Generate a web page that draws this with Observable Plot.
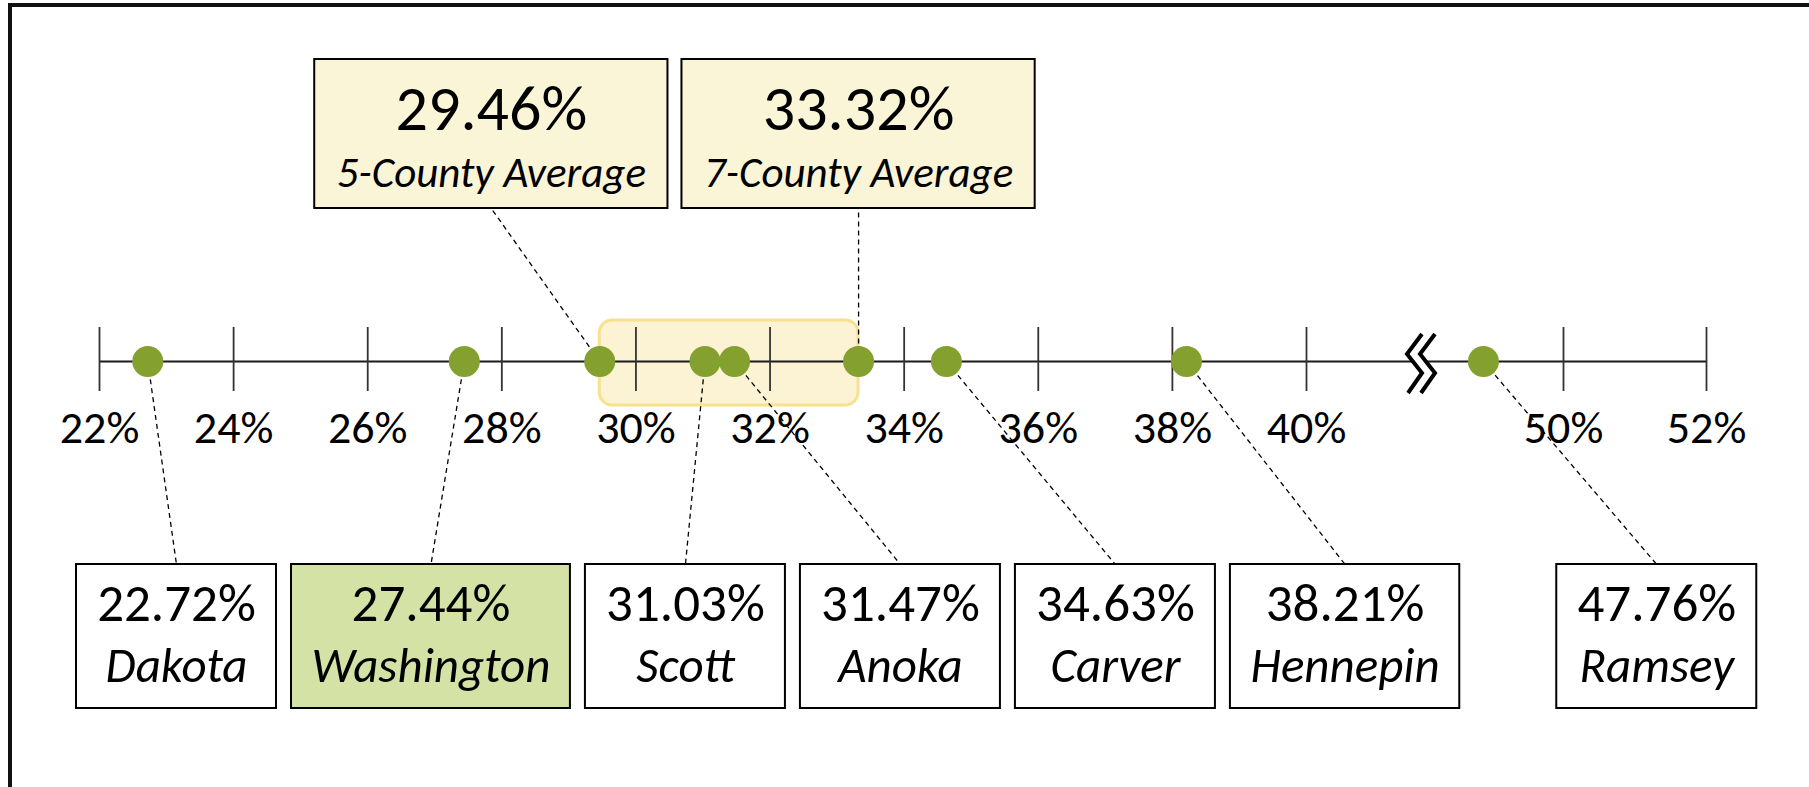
<!DOCTYPE html>
<html>
<head>
<meta charset="utf-8">
<script src="https://cdn.jsdelivr.net/npm/d3@7"></script>
<script src="https://cdn.jsdelivr.net/npm/@observablehq/plot@0.6"></script>
<style>
  html, body { margin: 0; padding: 0; background: #fff; }
  #wrap { position: relative; width: 1809px; height: 787px; overflow: hidden; }
  #frame { position: absolute; left: 8px; top: 3px; width: 1820px; height: 800px;
           border-left: 4px solid #111; border-top: 4px solid #111; pointer-events: none; }
</style>
</head>
<body>
<div id="wrap"><div id="chart"></div><div id="frame"></div></div>
<script>
// ---- data ----
const counties = ["Dakota", "Washington", "Scott", "Anoka", "Carver", "Hennepin", "Ramsey"];
const countyValues = [22.72, 27.44, 31.03, 31.47, 34.63, 38.21, 47.76];
const highlightCounty = "Washington";
const averageLabels = ["5-County Average", "7-County Average"];
const averageValues = [29.46, 33.32];
const tickValues = [22, 24, 26, 28, 30, 32, 34, 36, 38, 40, 50, 52];
const tickLabels = ["22%", "24%", "26%", "28%", "30%", "32%", "34%", "36%", "38%", "40%", "50%", "52%"];
const axisBreakValue = 46;

// ---- layout ----
const W = 1809, H = 787;
const xDomain = [22, 40, axisBreakValue, 50, 52];
const xRange = [99, 1306, 1420, 1563, 1706];
const L = {
  axisY: 361, tickY1: 327, tickY2: 391, tickLabelY: 428,
  hlY1: 320, hlY2: 405,
  topY1: 59, topY2: 208, topValueY: 109, topLabelY: 173,
  botY1: 564, botY2: 708, botValueY: 604, botNameY: 666,
  botLeft: 76, botGap: 15, breakGap: 82, botMinW: 200, botPad: 20, botMinPad: 14,
  topGap: 14, topPad: 22
};
const font = "Carlito, Calibri, 'Liberation Sans', sans-serif";
const fsTick = 46, fsBotVal = 53, fsBotName = 49, fsTopVal = 64, fsTopLabel = 43;
const stretchY = {tick: 1.06, botVal: 1.13, topVal: 1.04};
const green = "#84A02E";

const xs = Plot.scale({x: {type: "linear", domain: xDomain, range: xRange}});
const xInv = d3.scaleLinear(xRange, xDomain);   // inverse of the same piecewise mapping
const ctx = document.createElement("canvas").getContext("2d");
function textW(str, f) { ctx.font = f; return ctx.measureText(str).width; }
const pct = v => v.toFixed(2) + "%";

// bottom boxes packed left to right (extra gap once past the axis break)
const bottomBoxes = [];
let cursor = L.botLeft;
counties.forEach((name, i) => {
  const v = countyValues[i];
  if (v > axisBreakValue && (i === 0 || countyValues[i - 1] < axisBreakValue)) cursor += L.breakGap;
  const w = Math.max(L.botMinW,
    textW(name, `italic ${fsBotName}px ${font}`) + 2 * L.botPad,
    textW(pct(v), `${fsBotVal}px ${font}`) + 2 * L.botMinPad);
  const px1 = cursor, px2 = cursor + w;
  bottomBoxes.push({name, value: v, x1: xInv(px1), x2: xInv(px2), xc: xInv((px1 + px2) / 2),
               fill: name === highlightCounty ? "#D4E2A6" : "#FFFFFF"});
  cursor = px2 + L.botGap;
});

// top boxes: last one centred over its dot, earlier ones to its left
const topW = d3.max(averageLabels, (s, i) => Math.max(textW(s, `italic ${fsTopLabel}px ${font}`), textW(pct(averageValues[i]), `${fsTopVal}px ${font}`))) + 2 * L.topPad;
const topBoxes = [];
let rightEdge = null;
for (let i = averageLabels.length - 1; i >= 0; i--) {
  let px1, px2;
  if (rightEdge === null) { const c = xs.apply(averageValues[i]); px1 = c - topW / 2; px2 = c + topW / 2; }
  else { px2 = rightEdge; px1 = px2 - topW; }
  rightEdge = px1 - L.topGap;
  topBoxes.unshift({label: averageLabels[i], value: averageValues[i], x1: xInv(px1), x2: xInv(px2), xc: xInv((px1 + px2) / 2)});
}

const ticks = tickValues.map((v, i) => ({v, label: tickLabels[i]}));

function breakGlyph(index, scales) {
  const cx = scales.x(axisBreakValue), cy = scales.y(L.axisY);
  const pts = [[2, -27], [-13, -7], [2, 12], [-12, 32]];
  const off = 13;
  const g = d3.create("svg:g");
  const s1 = pts.map(([dx, dy]) => [cx + dx, cy + dy]);
  const s2 = pts.map(([dx, dy]) => [cx + dx + off, cy + dy]);
  g.append("path").attr("d", d3.line()(s1.concat(s2.slice().reverse())) + "Z").attr("fill", "#fff");
  for (const s of [s1, s2]) {
    g.append("path").attr("d", d3.line()(s)).attr("fill", "none").attr("stroke", "#000")
      .attr("stroke-width", 4).attr("stroke-linejoin", "miter");
  }
  return g.node();
}

const chart = Plot.plot({
  width: W, height: H,
  margin: 0,
  x: {type: "linear", domain: xDomain, range: xRange, axis: null},
  y: {type: "linear", domain: [0, H], range: [0, H], axis: null},
  style: {background: "transparent", overflow: "visible"},
  marks: [
    Plot.rect([averageValues], {x1: d => d[0], x2: d => d[1], y1: L.hlY1, y2: L.hlY2,
      rx: 13, fill: "#FBF3D3", stroke: "#F7E08E", strokeWidth: 3}),
    Plot.ruleY([L.axisY], {x1: d3.min(tickValues), x2: d3.max(tickValues), stroke: "#1a1a1a", strokeWidth: 2}),
    Plot.ruleX(ticks, {x: "v", y1: L.tickY1, y2: L.tickY2, stroke: "#333", strokeWidth: 1.8}),
    breakGlyph,
    Plot.text(ticks, {x: "v", y: L.tickLabelY, text: "label", fontSize: fsTick, fontFamily: font, fill: "#000", ariaLabel: "tick-labels"}),
    Plot.link(bottomBoxes, {x1: "value", y1: L.axisY, x2: "xc", y2: L.botY1, stroke: "#000", strokeWidth: 1.3, strokeDasharray: "5,4"}),
    Plot.link(topBoxes, {x1: "value", y1: L.axisY, x2: "xc", y2: L.topY2, stroke: "#000", strokeWidth: 1.3, strokeDasharray: "5,4"}),
    Plot.dot(countyValues.concat(averageValues), {x: d => d, y: L.axisY, r: 15.5, fill: green, stroke: "none"}),
    Plot.rect(bottomBoxes, {x1: "x1", x2: "x2", y1: L.botY1, y2: L.botY2, fill: "fill", stroke: "#000", strokeWidth: 2}),
    Plot.text(bottomBoxes, {x: "xc", y: L.botValueY, text: d => pct(d.value), fontSize: fsBotVal, fontFamily: font, fill: "#000", ariaLabel: "county-values"}),
    Plot.text(bottomBoxes, {x: "xc", y: L.botNameY, text: "name", fontSize: fsBotName, fontFamily: font, fontStyle: "italic", fill: "#000"}),
    Plot.rect(topBoxes, {x1: "x1", x2: "x2", y1: L.topY1, y2: L.topY2, fill: "#FBF5D8", stroke: "#000", strokeWidth: 2}),
    Plot.text(topBoxes, {x: "xc", y: L.topValueY, text: d => pct(d.value), fontSize: fsTopVal, fontFamily: font, fill: "#000", ariaLabel: "average-values"}),
    Plot.text(topBoxes, {x: "xc", y: L.topLabelY, text: "label", fontSize: fsTopLabel, fontFamily: font, fontStyle: "italic", fill: "#000"})
  ]
});

// slightly taller numerals, as in the original's stretched text
function stretch(label, s) {
  chart.querySelectorAll(`g[aria-label="${label}"] text`).forEach(t => {
    const tr = t.getAttribute("transform") || "";
    const x = +t.getAttribute("x") || 0, y = +t.getAttribute("y") || 0;
    t.setAttribute("transform", `${tr} translate(${x},${y}) scale(1,${s}) translate(${-x},${-y})`);
  });
}
stretch("tick-labels", stretchY.tick);
stretch("county-values", stretchY.botVal);
stretch("average-values", stretchY.topVal);

document.getElementById("chart").appendChild(chart);
</script>
</body>
</html>
